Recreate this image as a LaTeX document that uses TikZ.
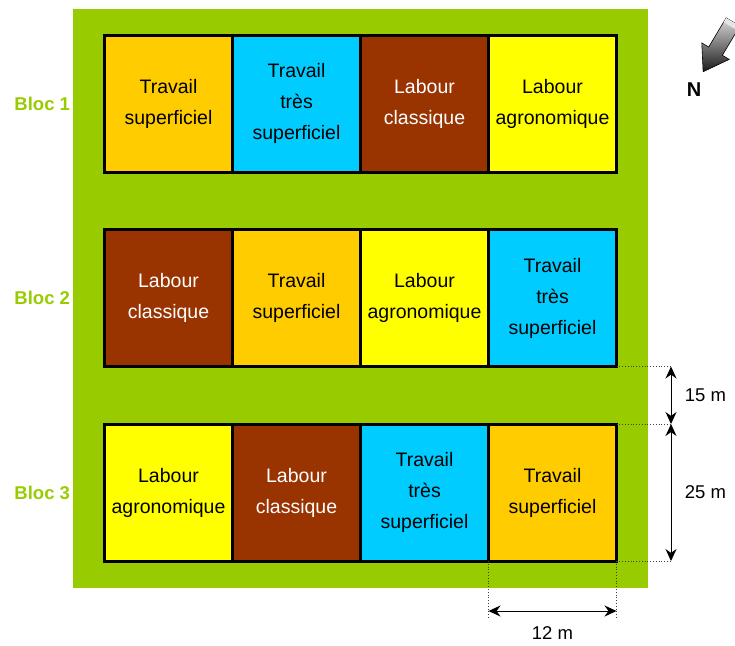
\documentclass[tikz,border=0pt]{standalone}
\usepackage{fontspec}
\setmainfont{Liberation Sans}
\usetikzlibrary{positioning,arrows.meta}

\definecolor{champ}{HTML}{99CC00}
\definecolor{tsup}{HTML}{FFCC00}
\definecolor{ttsup}{HTML}{00CCFF}
\definecolor{lclass}{HTML}{993300}
\definecolor{lagro}{HTML}{FFFF00}

\begin{document}
\begin{tikzpicture}[
    x=1pt, y=-1pt,
    parcelle/.style={rectangle, draw, line width=3pt, minimum width=128pt, minimum height=137pt, outer sep=0pt, inner sep=0pt, text width=124pt, align=center, font=\fontsize{19.5}{31}\selectfont},
    ts/.style={parcelle, fill=tsup},
    tts/.style={parcelle, fill=ttsup},
    lc/.style={parcelle, fill=lclass, text=white},
    la/.style={parcelle, fill=lagro},
    bloc/.style={font=\fontsize{18.5}{20}\selectfont\bfseries, text=champ},
    cotetxt/.style={font=\fontsize{18.5}{20}\selectfont},
    repere/.style={dotted, line width=0.8pt, black!75},
    fleche/.style={line width=1pt, {Stealth[length=12pt,width=11pt]}-{Stealth[length=12pt,width=11pt]}}
]

\useasboundingbox (0,0) rectangle (735,645);

% Field
\fill[champ] (73,9) rectangle (648,588);

% Bloc 1
\node[ts] (p11) at (168.5,103.5) {Travail\\superficiel};
\node[tts, right=0pt of p11] (p12) {Travail\\très\\superficiel};
\node[lc, right=0pt of p12] (p13) {Labour\\classique};
\node[la, right=0pt of p13] (p14) {Labour\\agronomique};

% Bloc 2
\node[lc, below=57.5pt of p11] (p21) {Labour\\classique};
\node[ts, right=0pt of p21] (p22) {Travail\\superficiel};
\node[la, right=0pt of p22] (p23) {Labour\\agronomique};
\node[tts, right=0pt of p23] (p24) {Travail\\très\\superficiel};

% Bloc 3
\node[la, below=57.5pt of p21] (p31) {Labour\\agronomique};
\node[lc, right=0pt of p31] (p32) {Labour\\classique};
\node[tts, right=0pt of p32] (p33) {Travail\\très\\superficiel};
\node[ts, right=0pt of p33] (p34) {Travail\\superficiel};

% Block labels
\node[bloc, left=31pt of p11] (b1) {Bloc 1};
\node[bloc, left=31pt of p21] (b2) {Bloc 2};
\node[bloc, left=31pt of p31] (b3) {Bloc 3};

% North arrow
\begin{scope}[shift={(733,22)}, rotate=239]
  \draw[line width=0.6pt, left color=black!15, right color=black!90, shading angle=0]
    (0,-8) -- (34,-8) -- (34,-16) -- (58,0) -- (34,16) -- (34,8) -- (0,8) -- cycle;
  \fill[black!10] (0,-8) rectangle (5,8);
\end{scope}
\node[font=\fontsize{20}{22}\selectfont\bfseries] (nord) at (694,90) {N};

% Dimensions
\coordinate (cx) at (671,0);
\coordinate (h1) at (p24.south east -| cx);
\coordinate (h2) at (p34.north east -| cx);
\coordinate (h3) at (p34.south east -| cx);
\draw[repere] (p24.south east) -- (h1);
\draw[repere] (p34.north east) -- (h2);
\draw[repere] (p34.south east) -- (h3);
\draw[fleche] (h1) -- (h2) node[cotetxt, midway, right=10pt] (c15) {15 m};
\draw[fleche] (h2) -- (h3) node[cotetxt, midway, right=10pt] (c25) {25 m};

\coordinate (vy) at (0,618);
\coordinate (ay) at (0,611);
\draw[repere] (p34.south west) -- (p34.south west |- vy);
\draw[repere] (p34.south east) -- (p34.south east |- vy);
\draw[fleche] (p34.south west |- ay) -- (p34.south east |- ay) node[cotetxt, midway, below=12pt] (c12) {12 m};

\end{tikzpicture}
\end{document}
